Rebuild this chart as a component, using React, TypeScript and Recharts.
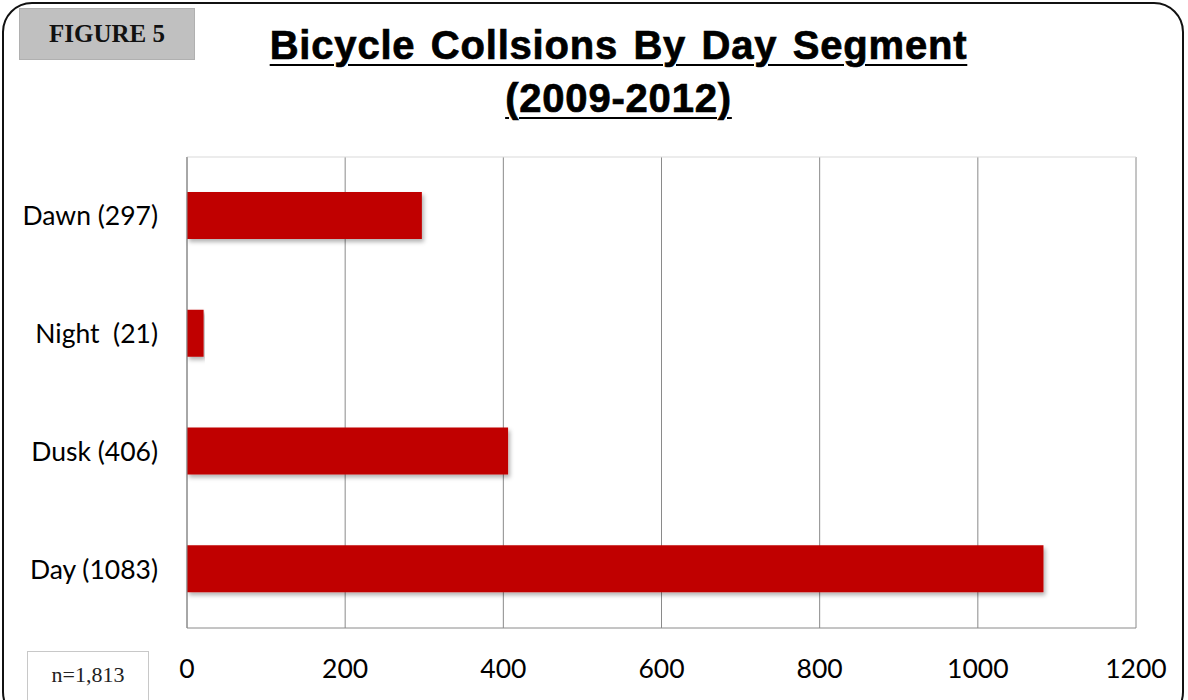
import React from 'react';
import { BarChart, Bar, XAxis, YAxis, CartesianGrid } from 'recharts';

const categories = ['Dawn (297)', 'Night  (21)', 'Dusk (406)', 'Day (1083)'];
const values = [297, 21, 406, 1083];
const xTicks = [0, 200, 400, 600, 800, 1000, 1200];

const data = categories.map((c, i) => ({ name: c, value: values[i] }));

const LABEL_FONT = 'Lato, "Open Sans", sans-serif';

const YTick = (props: any) => {
  const { x, y, payload } = props;
  return (
    <text x={x} y={y} dy="0.36em" textAnchor="end" fontFamily={LABEL_FONT} fontSize={26.5} fill="#000" style={{ whiteSpace: 'pre' }} xmlSpace="preserve">
      {payload.value}
    </text>
  );
};

const XTick = (props: any) => {
  const { x, y, payload } = props;
  return (
    <text x={x} y={y} dy="0.36em" textAnchor="middle" fontFamily={LABEL_FONT} fontSize={26.5} fill="#000">
      {payload.value}
    </text>
  );
};

export default function App() {
  return (
    <div style={{ position: 'absolute', left: 0, top: 0, width: 1188, height: 700, background: '#fff', overflow: 'hidden' }}>
      <div style={{ position: 'absolute', left: 2, top: 2, width: 1182, height: 720, border: '2px solid #111', borderRadius: 30, boxSizing: 'border-box' }} />
      <div style={{ position: 'absolute', left: 19, top: 8, width: 176, height: 52, background: '#c0c0c0', border: '1px solid #b0b0b0', boxSizing: 'border-box', display: 'flex', alignItems: 'center', justifyContent: 'center', fontFamily: '"Liberation Serif", serif', fontWeight: 'bold', fontSize: 25, color: '#111' }}>
        FIGURE 5
      </div>
      <div style={{ position: 'absolute', left: 0, top: 19, width: 1237, textAlign: 'center', fontFamily: '"Liberation Sans", Arial, sans-serif', fontWeight: 'bold', fontSize: 40, lineHeight: '53px', color: '#000', textDecoration: 'underline', textDecorationThickness: 2, textUnderlineOffset: 5, letterSpacing: 0.8, wordSpacing: 3.5, whiteSpace: 'pre', WebkitTextStroke: '0.7px #000' }}>
        {'Bicycle Collsions By Day Segment'}
        <br />
        {'(2009-2012)'}
      </div>
      <div style={{ position: 'absolute', left: 27, top: 651, width: 122, height: 60, background: '#fff', border: '1px solid #c8c8c8', boxSizing: 'border-box', paddingTop: 10, textAlign: 'center', fontFamily: '"Liberation Serif", serif', fontSize: 22, color: '#222' }}>
        n=1,813
      </div>
      <div style={{ position: 'absolute', left: 0, top: 0 }}>
        <svg width={0} height={0} style={{ position: 'absolute' }}>
          <defs>
            <filter id="barShadow" x="-5%" y="-20%" width="110%" height="160%">
              <feDropShadow dx="2" dy="3" stdDeviation="2" floodColor="#000" floodOpacity="0.3" />
            </filter>
          </defs>
        </svg>
        <BarChart
          width={1188}
          height={700}
          data={data}
          layout="vertical"
          margin={{ top: 157, right: 52, left: 0, bottom: 0 }}
          barSize={47}
        >
          <CartesianGrid horizontal={false} vertical stroke="#8a8a8a" />
          <CartesianGrid vertical={false} horizontal stroke="#d9d9d9" horizontalCoordinatesGenerator={() => [157]} />
          <XAxis
            type="number"
            domain={[0, 1200]}
            ticks={xTicks}
            height={72}
            axisLine={{ stroke: '#8a8a8a' }}
            tickLine={false}
            tickMargin={34}
            tick={<XTick />}
            interval={0}
          />
          <YAxis
            type="category"
            dataKey="name"
            width={187}
            axisLine={{ stroke: '#8a8a8a' }}
            tickLine={false}
            tickMargin={23}
            tick={<YTick />}
            interval={0}
          />
          <Bar dataKey="value" fill="#c00000" isAnimationActive={false} style={{ filter: 'url(#barShadow)' }} />
        </BarChart>
      </div>
    </div>
  );
}
